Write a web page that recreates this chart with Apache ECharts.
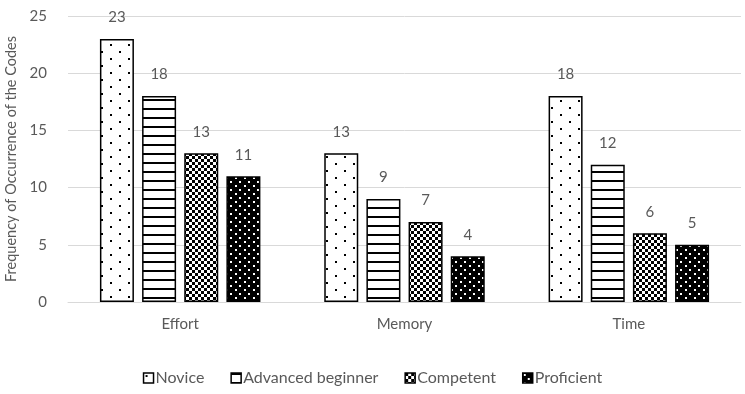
<!DOCTYPE html>
<html>
<head>
<meta charset="utf-8">
<script src="https://cdn.jsdelivr.net/npm/echarts@6/dist/echarts.min.js"></script>
<style>
html, body { margin: 0; padding: 0; background: #fff; }
#main { width: 745px; height: 394px; }
</style>
</head>
<body>
<div id="main"></div>
<script>
var categories = ['Effort', 'Memory', 'Time'];
var seriesNames = ['Novice', 'Advanced beginner', 'Competent', 'Proficient'];
var novice = [23, 13, 18];
var advanced = [18, 9, 12];
var competent = [13, 7, 6];
var proficient = [11, 4, 5];
var yTicks = [0, 5, 10, 15, 20, 25];

// pattern tiles drawn on small canvases
function tile(w, h, draw) {
    var c = document.createElement('canvas');
    c.width = w; c.height = h;
    var ctx = c.getContext('2d');
    draw(ctx);
    return { image: c, repeat: 'repeat' };
}
var dotPattern = tile(18, 14, function (ctx) {
    ctx.fillStyle = '#fff'; ctx.fillRect(0, 0, 18, 14);
    ctx.fillStyle = '#000';
    ctx.fillRect(2, 2, 2, 2);
    ctx.fillRect(11, 9, 2, 2);
});
var stripePattern = tile(8, 9, function (ctx) {
    ctx.fillStyle = '#fff'; ctx.fillRect(0, 0, 8, 9);
    ctx.fillStyle = '#000';
    ctx.fillRect(0, 0, 8, 2);
});
var checkPattern = tile(6, 6, function (ctx) {
    ctx.fillStyle = '#fff'; ctx.fillRect(0, 0, 6, 6);
    ctx.fillStyle = '#000';
    ctx.fillRect(0, 0, 3, 3);
    ctx.fillRect(3, 3, 3, 3);
});
var blackDotPattern = tile(9, 8, function (ctx) {
    ctx.fillStyle = '#000'; ctx.fillRect(0, 0, 9, 8);
    ctx.fillStyle = '#fff';
    ctx.fillRect(1, 1, 2, 2);
    ctx.fillRect(5, 5, 2, 2);
});
var patterns = [dotPattern, stripePattern, checkPattern, blackDotPattern];
var values = [novice, advanced, competent, proficient];

var myChart = echarts.init(document.getElementById('main'));
var font = 'Lato, "Open Sans", sans-serif';
var series = seriesNames.map(function (name, i) {
    return {
        name: name,
        type: 'bar',
        data: values[i],
        barWidth: 34,
        barGap: '24%',
        itemStyle: { color: patterns[i], borderColor: '#000', borderWidth: 1.5 },
        label: {
            show: true, position: 'top', distance: 14,
            color: '#595959', fontSize: 15, fontFamily: font
        }
    };
});

option = {
    animation: false,
    textStyle: { fontFamily: font },
    grid: { left: 68, right: 4, top: 16, bottom: 92, outerBoundsMode: 'none' },
    legend: {
        bottom: 3,
        left: 'center',
        itemWidth: 10,
        itemHeight: 10,
        itemGap: 26,
        icon: 'rect',
        textStyle: { color: '#595959', fontSize: 16, fontFamily: font, padding: [0, 0, 0, -3] },
        itemStyle: { borderColor: '#000', borderWidth: 1.5 },
        data: seriesNames
    },
    xAxis: {
        type: 'category',
        data: categories,
        axisTick: { show: false },
        axisLine: { lineStyle: { color: '#d9d9d9', width: 1 } },
        axisLabel: { color: '#595959', fontSize: 15, margin: 15, fontFamily: font }
    },
    yAxis: {
        type: 'value',
        min: yTicks[0],
        max: yTicks[yTicks.length - 1],
        interval: 5,
        name: 'Frequency of Occurrence of the Codes',
        nameLocation: 'middle',
        nameGap: 40,
        nameRotate: 90,
        nameTextStyle: { color: '#595959', fontSize: 14.5, fontFamily: font },
        axisLabel: { color: '#595959', fontSize: 15, margin: 21, fontFamily: font },
        splitLine: { lineStyle: { color: '#d9d9d9', width: 1 } }
    },
    series: series
};
myChart.setOption(option);
</script>
</body>
</html>
